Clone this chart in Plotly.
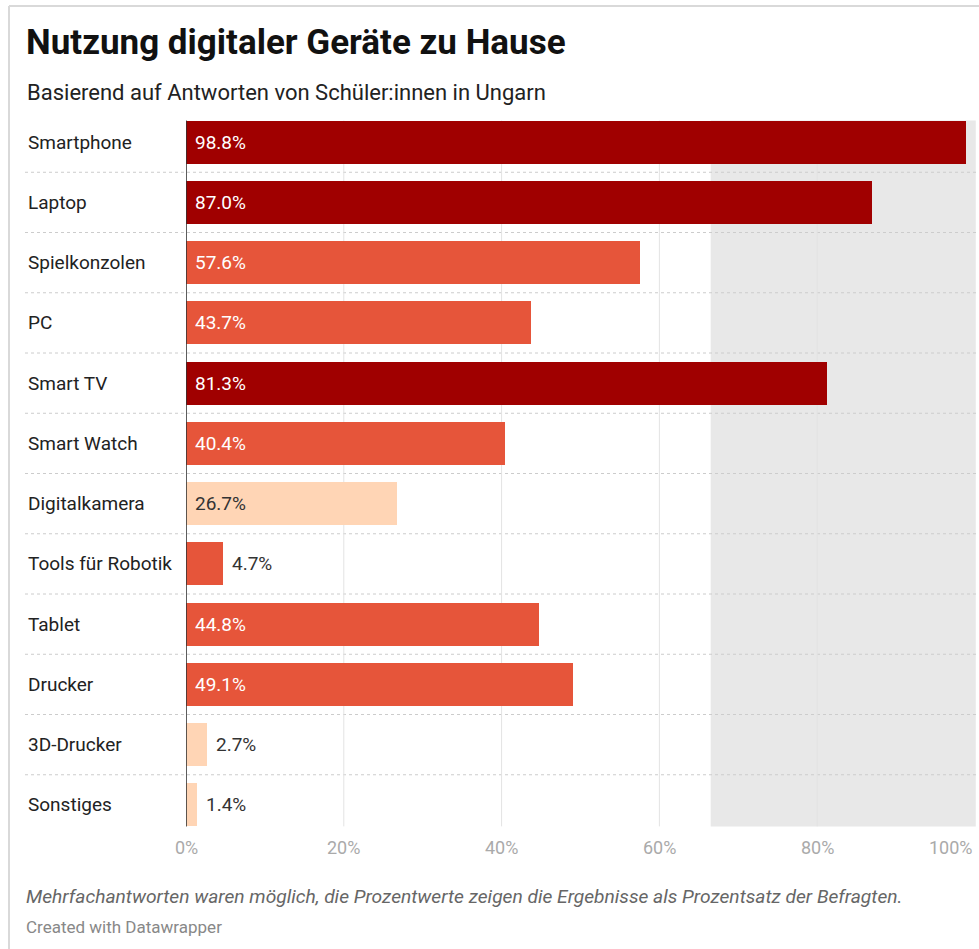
import plotly.graph_objects as go

# --- data -------------------------------------------------------------
categories = ["Smartphone", "Laptop", "Spielkonzolen", "PC", "Smart TV", "Smart Watch",
              "Digitalkamera", "Tools für Robotik", "Tablet", "Drucker", "3D-Drucker", "Sonstiges"]
values = [98.8, 87.0, 57.6, 43.7, 81.3, 40.4, 26.7, 4.7, 44.8, 49.1, 2.7, 1.4]
# colour group per bar: 0 = high, 1 = medium, 2 = low
groups = [0, 0, 1, 1, 0, 1, 2, 1, 1, 1, 2, 2]
tick_values = [0, 20, 40, 60, 80, 100]
tick_labels = ["0%", "20%", "40%", "60%", "80%", "100%"]
highlight_range = [66.5, 100.1]

title = "Nutzung digitaler Geräte zu Hause"
subtitle = "Basierend auf Antworten von Schüler:innen in Ungarn"
note = "Mehrfachantworten waren möglich, die Prozentwerte zeigen die Ergebnisse als Prozentsatz der Befragten."
credit = "Created with Datawrapper"

# --- styling ----------------------------------------------------------
W, H = 979, 949
L, R, T, B = 186, 4, 112, 114
PW, PH = W - L - R, H - T - B
FONT = "Roboto"
palette = {0: "#a00000", 1: "#e6553a", 2: "#ffd5b5"}
label_color = {0: "#ffffff", 1: "#ffffff", 2: "#333333"}
BAR_W = 0.714


def px(xpix):
    return (xpix - L) / PW


def py(ypix):
    return (H - B - ypix) / PH


n = len(categories)
idx = list(range(n))

fig = go.Figure(go.Bar(
    x=values, y=idx, orientation="h", width=BAR_W,
    marker=dict(color=[palette[g] for g in groups], line=dict(width=0)),
    hoverinfo="skip",
))

shapes = []
# outer frame (top and left edge)
shapes.append(dict(type="line", xref="paper", yref="paper", x0=px(9), x1=px(W + 5),
                   y0=py(6), y1=py(6), line=dict(color="#d9d9d9", width=2), layer="below"))
shapes.append(dict(type="line", xref="paper", yref="paper", x0=px(9), x1=px(9),
                   y0=py(6), y1=py(H + 5), line=dict(color="#d9d9d9", width=2), layer="below"))
# highlighted range
shapes.append(dict(type="rect", xref="paper", yref="y",
                   x0=px(L + highlight_range[0] / 100 * PW), x1=px(L + highlight_range[1] / 100 * PW),
                   y0=-BAR_W / 2, y1=n - 1 + BAR_W / 2,
                   fillcolor="#e8e8e8", line=dict(width=0), layer="below"))
# vertical gridlines
for t in tick_values[1:-1]:
    shapes.append(dict(type="line", xref="x", yref="y", x0=t, x1=t,
                       y0=-BAR_W / 2, y1=n - 1 + BAR_W / 2,
                       line=dict(color="#e3e3e3", width=1), layer="below"))
# dotted row separators
for i in range(n - 1):
    shapes.append(dict(type="line", xref="paper", yref="y", x0=px(25), x1=px(977),
                       y0=i + 0.5, y1=i + 0.5,
                       line=dict(color="#cccccc", width=1, dash="dot"), layer="below"))
# baseline at 0 %
shapes.append(dict(type="line", xref="x", yref="y", x0=0, x1=0,
                   y0=-BAR_W / 2, y1=n - 1 + BAR_W / 2,
                   line=dict(color="#333333", width=1.6), layer="above"))

ann = []
# title block
ann.append(dict(text=title, xref="paper", yref="paper", x=px(24), y=py(43),
                xanchor="left", yanchor="middle", showarrow=False,
                font=dict(family=FONT, size=35, color="#111111", weight=700)))
ann.append(dict(text=subtitle, xref="paper", yref="paper", x=px(25), y=py(92),
                xanchor="left", yanchor="middle", showarrow=False,
                font=dict(family=FONT, size=22, color="#222222")))
# category labels
for i, c in enumerate(categories):
    ann.append(dict(text=c, xref="paper", yref="y", x=px(26), y=i,
                    xanchor="left", yanchor="middle", showarrow=False,
                    font=dict(family=FONT, size=19, color="#222222")))
# value labels
for i, (v, g) in enumerate(zip(values, groups)):
    txt = f"{v:.1f}%"
    if v >= 10:
        ann.append(dict(text=txt, xref="x", yref="y", x=0, y=i, xshift=7,
                        xanchor="left", yanchor="middle", showarrow=False,
                        font=dict(family=FONT, size=19, color=label_color[g])))
    else:
        ann.append(dict(text=txt, xref="x", yref="y", x=v, y=i, xshift=7,
                        xanchor="left", yanchor="middle", showarrow=False,
                        font=dict(family=FONT, size=19, color="#333333")))
# x tick labels
for t, lab in zip(tick_values, tick_labels):
    last = t == tick_values[-1]
    ann.append(dict(text=lab, xref="x", yref="paper", x=t, y=py(847),
                    xanchor="right" if last else "center", yanchor="middle", showarrow=False,
                    font=dict(family=FONT, size=18, color="#aaaaaa")))
# footer
ann.append(dict(text=f"<i>{note}</i>", xref="paper", yref="paper", x=px(24), y=py(897),
                xanchor="left", yanchor="middle", showarrow=False,
                font=dict(family=FONT, size=19.2, color="#666666")))
ann.append(dict(text=credit, xref="paper", yref="paper", x=px(24), y=py(927),
                xanchor="left", yanchor="middle", showarrow=False,
                font=dict(family=FONT, size=17, color="#888888")))

fig.update_layout(
    width=W, height=H,
    margin=dict(l=L, r=R, t=T, b=B, pad=0),
    paper_bgcolor="white", plot_bgcolor="rgba(0,0,0,0)",
    showlegend=False, bargap=0,
    xaxis=dict(range=[0, 100], showgrid=False, zeroline=False, showticklabels=False,
               ticks="", fixedrange=True),
    yaxis=dict(range=[n - 0.5, -0.5], showgrid=False, zeroline=False, showticklabels=False,
               ticks="", fixedrange=True),
    shapes=shapes, annotations=ann,
    font=dict(family=FONT),
)

fig.write_html("out.html", config={"displayModeBar": False})
